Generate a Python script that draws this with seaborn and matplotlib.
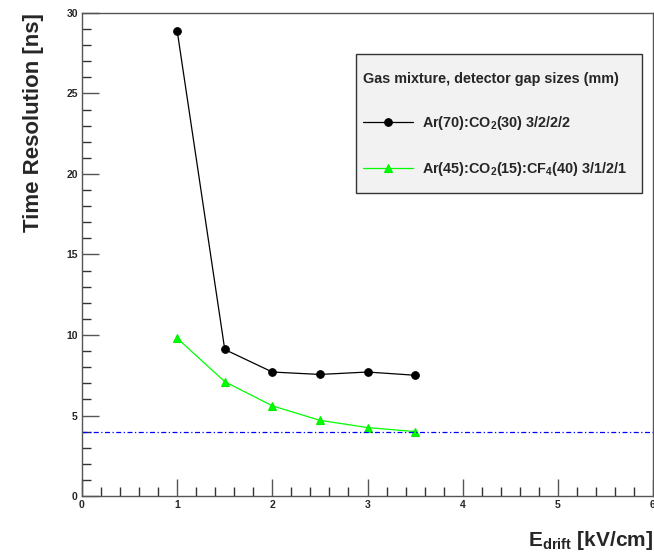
import matplotlib
matplotlib.use("Agg")
import matplotlib.pyplot as plt
import seaborn as sns
import pandas as pd
from matplotlib.ticker import MultipleLocator
from matplotlib.patches import Rectangle

# ---- data ----
e_drift = [1.0, 1.5, 2.0, 2.5, 3.0, 3.5]
res_arco2 = [28.9, 9.1, 7.7, 7.55, 7.7, 7.5]
res_arco2cf4 = [9.8, 7.1, 5.6, 4.7, 4.25, 4.0]
ref_level = 4.0
label_arco2 = r"Ar(70):CO$_2$(30) 3/2/2/2"
label_arco2cf4 = r"Ar(45):CO$_2$(15):CF$_4$(40) 3/1/2/1"
legend_title = "Gas mixture, detector gap sizes (mm)"

sns.set_theme(style="white")
plt.rcParams['font.family'] = ['Liberation Sans', 'DejaVu Sans']
plt.rcParams['font.weight'] = 'bold'
plt.rcParams['mathtext.fontset'] = 'custom'
plt.rcParams['mathtext.rm'] = 'Liberation Sans:bold'
plt.rcParams['mathtext.bf'] = 'Liberation Sans:bold'
plt.rcParams['mathtext.it'] = 'Liberation Sans:bold'
plt.rcParams['mathtext.default'] = 'rm'

df1 = pd.DataFrame({"E": e_drift, "R": res_arco2})
df2 = pd.DataFrame({"E": e_drift, "R": res_arco2cf4})

fig = plt.figure(figsize=(6.54, 5.52), dpi=100)
ax = fig.add_axes([82/654, 1 - 496/552, (653 - 82)/654, (496 - 13)/552])

sns.lineplot(data=df1, x="E", y="R", ax=ax, color="black", marker="o",
             markersize=5.5, markeredgecolor="black", linewidth=0.9, label=label_arco2)
sns.lineplot(data=df2, x="E", y="R", ax=ax, color="#00ff00", marker="^",
             markersize=6, markeredgecolor="#00ee00", linewidth=0.9, label=label_arco2cf4)
ax.axhline(ref_level, color="#0000ff", linestyle=(0, (4, 2, 1, 2)), linewidth=0.9)

ax.set_xlim(0, 6)
ax.set_ylim(0, 30)
ax.xaxis.set_major_locator(MultipleLocator(1))
ax.xaxis.set_minor_locator(MultipleLocator(0.2))
ax.yaxis.set_major_locator(MultipleLocator(5))
ax.yaxis.set_minor_locator(MultipleLocator(1))
ax.tick_params(axis="both", which="major", direction="in", length=12, width=1,
               color="#555555", labelsize=7.5, pad=3)
ax.tick_params(axis="both", which="minor", direction="in", length=6.5, width=1,
               color="#333333")
ax.tick_params(bottom=True, left=True, top=False, right=False, which="both")
for lab in ax.get_xticklabels() + ax.get_yticklabels():
    lab.set_fontweight("bold")

for s in ["left", "bottom", "top", "right"]:
    ax.spines[s].set_color("#555555")
    ax.spines[s].set_linewidth(1)

ax.set_xlabel(r"E$_{\mathrm{drift}}$ [kV/cm]", fontsize=15, fontweight="bold", loc="right")
ax.xaxis.set_label_coords(1.0, -0.069)
ax.set_ylabel("Time Resolution [ns]", fontsize=16, fontweight="bold", loc="top")
ax.yaxis.set_label_coords(-0.067, 1.0)

# legend box (ROOT-style grey pave)
ax.add_patch(Rectangle((355.5/654, 1 - 193/552), (642 - 355.5)/654, (193 - 54.5)/552,
                       transform=fig.transFigure, facecolor="#f2f2f2",
                       edgecolor="#333333", linewidth=1, zorder=4, clip_on=False))

leg = ax.legend(title=legend_title, loc="upper left",
                bbox_to_anchor=(363/654, 1 - 71.5/552),
                bbox_transform=fig.transFigure,
                fontsize=10.4, title_fontsize=10.4, frameon=False,
                labelspacing=1.95, handlelength=3.45, handletextpad=0.65,
                borderpad=0, borderaxespad=0)
leg.set_zorder(6)
leg.get_title().set_fontweight("bold")
leg._legend_box.align = "left"

fig.savefig("out.png", dpi=100, facecolor="white")
